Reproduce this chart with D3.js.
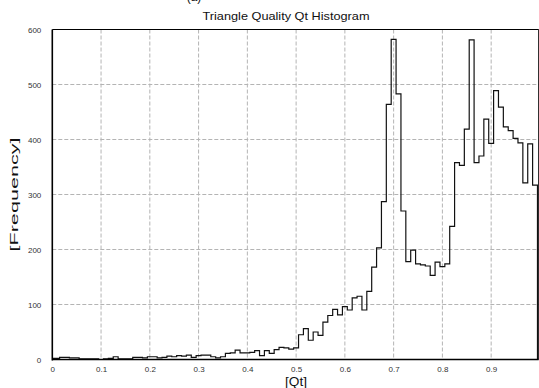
<!DOCTYPE html>
<html>
<head>
<meta charset="utf-8">
<script src="https://cdn.jsdelivr.net/npm/d3@7"></script>
<style>
  html, body { margin: 0; padding: 0; background: #fff; }
  svg { display: block; font-family: "Liberation Sans", Arial, sans-serif; }
</style>
</head>
<body>
<svg id="chart" width="539" height="388"></svg>
<script>
// Histogram of triangle quality Qt: 100 bins of width 0.01, centred on 0.00 ... 0.99
const binWidth = 0.01;
const firstBinCenter = 0.0;
const counts = [
  2, 2, 4, 4, 3, 3, 1, 1, 1, 1,
  0, 1, 2, 5, 1, 1, 1, 4, 4, 3,
  5, 5, 3, 4, 6, 5, 7, 6, 8, 4,
  7, 8, 8, 5, 3, 5, 11, 12, 17, 12,
  12, 13, 16, 7, 16, 11, 18, 22, 21, 19,
  21, 45, 56, 35, 50, 44, 68, 80, 91, 81,
  96, 90, 112, 115, 90, 124, 168, 203, 287, 464,
  582, 483, 270, 178, 199, 174, 172, 170, 153, 177,
  169, 174, 242, 358, 353, 419, 581, 358, 370, 437,
  393, 489, 459, 423, 416, 402, 394, 321, 392, 317
];
const xTicks = [0, 0.1, 0.2, 0.3, 0.4, 0.5, 0.6, 0.7, 0.8, 0.9];
const yTicks = [0, 100, 200, 300, 400, 500, 600];
const xExtent = [0, 0.9975];
const yExtent = [0, 600];

const titleText = "Triangle Quality Qt Histogram";
const xLabel = "[Qt]";
const yLabel = "[Frequency]";
const panelTag = "(a)";

const svg = d3.select("#chart");
const plot = { left: 52.3, right: 538.7, top: 29.5, bottom: 359.5 };

const x = d3.scaleLinear().domain(xExtent).range([plot.left, plot.right]);
const y = d3.scaleLinear().domain(yExtent).range([plot.bottom, plot.top]);

svg.append("defs").append("clipPath").attr("id", "plotClip")
  .append("rect")
  .attr("x", plot.left).attr("y", plot.top - 2)
  .attr("width", plot.right - plot.left).attr("height", plot.bottom - plot.top + 2);

// grid
const grid = svg.append("g").attr("stroke", "#b4b4b4").attr("stroke-width", 1)
  .attr("stroke-dasharray", "4,2").attr("fill", "none");
grid.selectAll("line.v").data(xTicks.filter(t => t > 0)).join("line")
  .attr("class", "v")
  .attr("x1", d => x(d)).attr("x2", d => x(d))
  .attr("y1", plot.top).attr("y2", plot.bottom);
grid.selectAll("line.h").data(yTicks.filter(t => t > yExtent[0] && t < yExtent[1])).join("line")
  .attr("class", "h")
  .attr("x1", plot.left).attr("x2", plot.right)
  .attr("y1", d => y(d)).attr("y2", d => y(d));

// stair outline of the histogram
const edges = counts.map((c, i) => firstBinCenter + (i - 0.5) * binWidth);
const lastEdge = firstBinCenter + (counts.length - 0.5) * binWidth;
const pts = [[edges[0], 0]]
  .concat(counts.map((c, i) => [edges[i], c]))
  .concat([[lastEdge, counts[counts.length - 1]], [lastEdge, 0]]);

const stair = d3.line()
  .x(d => x(d[0]))
  .y(d => y(d[1]))
  .curve(d3.curveStepAfter);

svg.append("path")
  .attr("clip-path", "url(#plotClip)")
  .attr("d", stair(pts))
  .attr("fill", "none")
  .attr("stroke", "#111")
  .attr("stroke-width", 1.2);

// frame
const frame = svg.append("g").attr("fill", "none").attr("stroke", "#000");
frame.append("line").attr("x1", plot.left).attr("x2", plot.right)
  .attr("y1", plot.top).attr("y2", plot.top).attr("stroke-width", 1);
frame.append("line").attr("x1", plot.right).attr("x2", plot.right)
  .attr("y1", plot.top).attr("y2", plot.bottom).attr("stroke-width", 1);
frame.append("line").attr("x1", plot.left).attr("x2", plot.left)
  .attr("y1", plot.top).attr("y2", plot.bottom + 1).attr("stroke-width", 1.6);
frame.append("line").attr("x1", plot.left).attr("x2", plot.right)
  .attr("y1", plot.bottom).attr("y2", plot.bottom).attr("stroke-width", 1.6);

// axes (labels only; lines are the frame)
const xAxis = d3.axisBottom(x).tickValues(xTicks).tickSize(0).tickPadding(7)
  .tickFormat(d => d === 0 ? "0" : d3.format(".1f")(d));
const gx = svg.append("g").attr("transform", `translate(0,${plot.bottom})`).call(xAxis);
gx.select(".domain").remove();
gx.selectAll("text").attr("font-size", 8).attr("fill", "#333")
  .attr("font-family", "Liberation Sans, Arial, sans-serif");

const yAxis = d3.axisLeft(y).tickValues(yTicks).tickSize(0).tickPadding(11);
const gy = svg.append("g").attr("transform", `translate(${plot.left},0)`).call(yAxis);
gy.select(".domain").remove();
gy.selectAll("text").attr("font-size", 8).attr("fill", "#333")
  .attr("font-family", "Liberation Sans, Arial, sans-serif");

// titles
svg.append("text")
  .attr("x", 286).attr("y", 20)
  .attr("text-anchor", "middle").attr("font-size", 11).attr("fill", "#111")
  .attr("textLength", 167).attr("lengthAdjust", "spacingAndGlyphs")
  .text(titleText);

svg.append("text")
  .attr("x", 194).attr("y", 0.5)
  .attr("text-anchor", "middle").attr("font-size", 12).attr("fill", "#111")
  .text(panelTag);

svg.append("text")
  .attr("x", 296).attr("y", 385.5)
  .attr("text-anchor", "middle").attr("font-size", 12).attr("fill", "#111")
  .attr("textLength", 22).attr("lengthAdjust", "spacingAndGlyphs")
  .text(xLabel);

svg.append("text")
  .attr("transform", `translate(18,${(plot.top + plot.bottom) / 2}) rotate(-90)`)
  .attr("text-anchor", "middle").attr("font-size", 11.5).attr("fill", "#111")
  .attr("textLength", 114).attr("lengthAdjust", "spacingAndGlyphs")
  .text(yLabel);
</script>
</body>
</html>
